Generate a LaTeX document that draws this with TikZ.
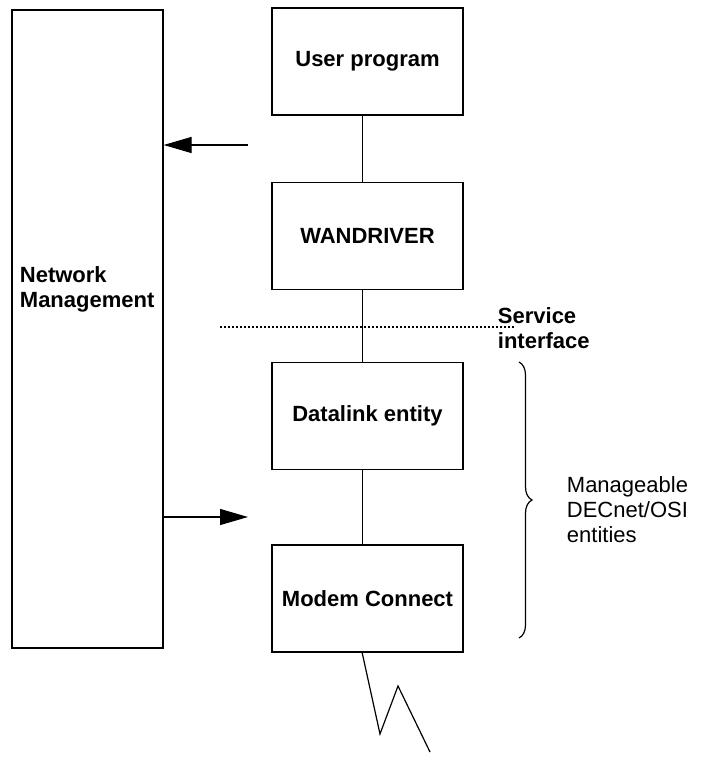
\documentclass[tikz,border=0pt]{standalone}
\usepackage{fontspec}
\setmainfont{Liberation Sans}
\usetikzlibrary{arrows.meta,decorations.pathreplacing}
\tikzset{every picture/.style={line width=1.2pt}}
\tikzset{
  layer/.style={draw,minimum width=191pt,minimum height=107pt,font=\fontsize{22}{26}\selectfont\bfseries},
  bigarrow/.style={-{Triangle[length=28pt,width=16pt]}}
}
\begin{document}
\begin{tikzpicture}[x=1pt,y=1pt,yscale=-1]
	\useasboundingbox (0,0) rectangle (702,763);
	
	%Network management box
	\node [draw,minimum width=151pt,minimum height=638pt] (netman) at (87.5,329) {};
	\node [anchor=west,align=left,font=\fontsize{22}{25}\selectfont\bfseries] (netlabel) at (16,289) {Network\\Management};
	
	%Layers
	\node [layer] (user) at (367.5,61.5) {User program};
	\node [layer] (wan) at (367.5,236) {WANDRIVER};
	\node [layer] (dlink) at (367.5,416) {Datalink entity};
	\node [layer] (modem) at (367.5,598.5) {Modem Connect};
	\draw ([xshift=-5pt]user.south) -- ([xshift=-5pt]wan.north);
	\draw ([xshift=-5pt]wan.south) -- ([xshift=-5pt]dlink.north);
	\draw ([xshift=-5pt]dlink.south) -- ([xshift=-5pt]modem.north);
	
	%Service interface
	\coordinate (sl) at (220,327);
	\coordinate (sr) at (515,327);
	\draw [dash pattern={on 2pt off 2pt}] (sl) -- (sr);
	\node [anchor=west,align=left,font=\fontsize{22}{25}\selectfont\bfseries] (service) at (494,328) {Service\\interface};
	
	%Arrows
	\coordinate (a1) at (248,145);
	\coordinate (a2) at (248,517);
	\draw [bigarrow] (a1) -- (a1 -| netman.east);
	\draw [bigarrow] (a2 -| netman.east) -- (a2);
	
	%Brace
	\coordinate (bt) at (519,362);
	\coordinate (bb) at (519,638);
	\draw [decorate,decoration={brace,amplitude=13pt}] (bt) -- (bb);
	\node [anchor=west,align=left,font=\fontsize{22}{25}\selectfont] (manage) at (563,510) {Manageable\\DECnet/OSI\\entities};
	
	%Line
	\coordinate (z0) at (362,652);
	\coordinate (z1) at (380,734);
	\coordinate (z2) at (398,686);
	\coordinate (z3) at (430,752);
	\draw (z0) -- (z1) -- (z2) -- (z3);
\end{tikzpicture}
\end{document}
